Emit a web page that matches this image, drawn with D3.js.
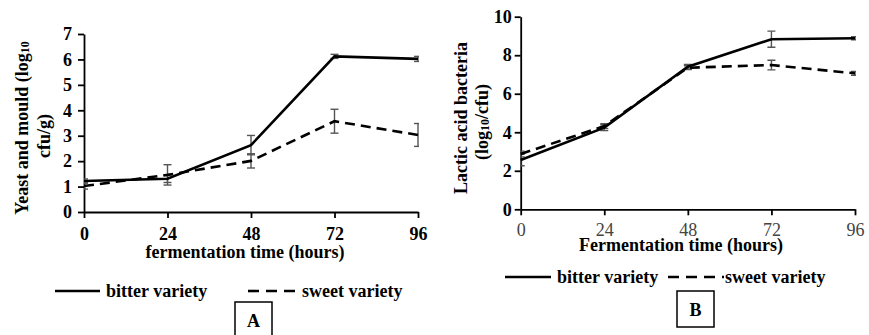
<!DOCTYPE html>
<html>
<head>
<meta charset="utf-8">
<script src="https://cdn.jsdelivr.net/npm/d3@7"></script>
<style>
  body { margin: 0; background: #fff; }
  svg, svg text { font-family: "Liberation Serif", "Times New Roman", Times, "DejaVu Serif", serif; }
</style>
</head>
<body>
<div id="chart"></div>
<script>
// fermentation time points (hours)
const hours = [0, 24, 48, 72, 96];

// panel A: yeast and mould
const yeastBitter = [1.22, 1.31, 2.63, 6.12, 6.02];
const yeastBitterErr = [0.08, 0.15, 0.38, 0.08, 0.1];
const yeastSweet = [1.02, 1.46, 2.01, 3.57, 3.03];
const yeastSweetErr = [0.12, 0.4, 0.28, 0.47, 0.45];
const yeastTicks = [0, 1, 2, 3, 4, 5, 6, 7];

// panel B: lactic acid bacteria
const labBitter = [2.56, 4.24, 7.4, 8.83, 8.88];
const labBitterErr = [0.3, 0.15, 0.12, 0.42, 0.08];
const labSweet = [2.87, 4.32, 7.35, 7.49, 7.06];
const labSweetErr = [0.15, 0.12, 0.1, 0.25, 0.1];
const labTicks = [0, 2, 4, 6, 8, 10];

const FONT = '"Liberation Serif", "Times New Roman", Times, "DejaVu Serif", serif';

const svg = d3.select('#chart').append('svg')
  .attr('width', 869)
  .attr('height', 335);

function drawPanel(opt) {
  const x = d3.scaleLinear().domain([0, 96]).range([opt.left, opt.right]);
  const y = d3.scaleLinear().domain([0, opt.yMax]).range([opt.bottom, opt.top]);
  const g = svg.append('g');

  g.append('clipPath').attr('id', opt.id + '-clip')
    .append('rect')
    .attr('x', opt.left).attr('y', opt.top - 10)
    .attr('width', opt.right - opt.left + 1).attr('height', opt.bottom - opt.top + 10);

  // axes
  const yAxis = g.append('g')
    .attr('transform', `translate(${opt.left},0)`)
    .call(d3.axisLeft(y).tickValues(opt.ticks).tickFormat(d3.format('d'))
      .tickSize(6).tickSizeOuter(0).tickPadding(opt.yPad))
    .attr('font-family', FONT);
  yAxis.selectAll('text')
    .attr('font-size', 18).attr('font-weight', 'bold').attr('fill', '#000');

  const xAxis = g.append('g')
    .attr('transform', `translate(0,${opt.bottom})`)
    .call(d3.axisBottom(x).tickValues(hours).tickFormat(d3.format('d'))
      .tickSize(6).tickSizeOuter(0).tickPadding(opt.xPad))
    .attr('font-family', FONT);
  xAxis.selectAll('text')
    .attr('font-size', 18).attr('font-weight', opt.xBold ? 'bold' : 'normal')
    .attr('fill', opt.xBold ? '#000' : '#444');
  g.selectAll('.domain, .tick line').attr('stroke', '#000').attr('stroke-width', 1.8);

  const series = [
    { values: opt.bitter, err: opt.bitterErr, dash: null },
    { values: opt.sweet, err: opt.sweetErr, dash: '10,6' }
  ];

  const line = d3.line()
    .x((d, i) => x(hours[i]))
    .y(d => y(d));

  const clipped = g.append('g').attr('clip-path', `url(#${opt.id}-clip)`);

  // error bars
  series.forEach(s => {
    const eb = clipped.append('g')
      .attr('stroke', '#555')
      .attr('stroke-width', 1.4)
      .selectAll('g')
      .data(s.values)
      .enter().append('g');
    eb.append('line')
      .attr('x1', (d, i) => x(hours[i])).attr('x2', (d, i) => x(hours[i]))
      .attr('y1', (d, i) => y(d - s.err[i])).attr('y2', (d, i) => y(d + s.err[i]));
    eb.append('line')
      .attr('x1', (d, i) => x(hours[i]) - 4).attr('x2', (d, i) => x(hours[i]) + 4)
      .attr('y1', (d, i) => y(d - s.err[i])).attr('y2', (d, i) => y(d - s.err[i]));
    eb.append('line')
      .attr('x1', (d, i) => x(hours[i]) - 4).attr('x2', (d, i) => x(hours[i]) + 4)
      .attr('y1', (d, i) => y(d + s.err[i])).attr('y2', (d, i) => y(d + s.err[i]));
  });

  series.forEach(s => {
    g.append('path')
      .datum(s.values)
      .attr('d', line)
      .attr('fill', 'none')
      .attr('stroke', '#000')
      .attr('stroke-width', 2.6)
      .attr('stroke-dasharray', s.dash);
  });

  // y axis title (two lines, rotated)
  opt.yTitle.forEach(t => {
    const txt = g.append('text')
      .attr('transform', `translate(${t.x},${t.y}) rotate(-90)`)
      .attr('text-anchor', 'middle')
      .attr('dominant-baseline', 'central')
      .attr('font-family', FONT)
      .attr('font-size', 18)
      .attr('font-weight', 'bold');
    t.parts.forEach(p => {
      const ts = txt.append('tspan').text(p.text);
      if (p.sub) ts.attr('font-size', 12).attr('baseline-shift', '-25%');
    });
  });

  // x axis title
  g.append('text')
    .attr('x', opt.xTitle.x).attr('y', opt.xTitle.y)
    .attr('text-anchor', 'middle')
    .attr('font-family', FONT)
    .attr('font-size', 18).attr('font-weight', 'bold')
    .text(opt.xTitle.text);

  // legend
  const lg = opt.legend;
  g.append('line')
    .attr('x1', lg.solid[0]).attr('x2', lg.solid[1]).attr('y1', lg.y).attr('y2', lg.y)
    .attr('stroke', '#000').attr('stroke-width', 2.6);
  g.append('text')
    .attr('x', lg.solid[1] + 6).attr('y', lg.y + 6)
    .attr('font-family', FONT)
    .attr('font-size', 18).attr('font-weight', 'bold')
    .text('bitter variety');
  g.append('line')
    .attr('x1', lg.dash[0]).attr('x2', lg.dash[1]).attr('y1', lg.y).attr('y2', lg.y)
    .attr('stroke', '#000').attr('stroke-width', 2.6).attr('stroke-dasharray', '11,7');
  g.append('text')
    .attr('x', lg.dash[1] + 1).attr('y', lg.y + 6)
    .attr('font-family', FONT)
    .attr('font-size', 18).attr('font-weight', 'bold')
    .text('sweet variety');

  // panel letter box
  const b = opt.box;
  g.append('rect')
    .attr('x', b.x).attr('y', b.y).attr('width', b.w).attr('height', b.h)
    .attr('fill', '#fff').attr('stroke', '#000').attr('stroke-width', 1.5);
  g.append('text')
    .attr('x', b.x + b.w / 2).attr('y', b.ty)
    .attr('text-anchor', 'middle')
    .attr('font-family', FONT)
    .attr('font-size', 18).attr('font-weight', 'bold')
    .text(b.label);
}

drawPanel({
  id: 'a', left: 84, right: 418, top: 34, bottom: 212, yMax: 7,
  ticks: yeastTicks, yPad: 6, xPad: 9, xBold: true,
  bitter: yeastBitter, bitterErr: yeastBitterErr,
  sweet: yeastSweet, sweetErr: yeastSweetErr,
  yTitle: [
    { x: 22, y: 128, parts: [{ text: 'Yeast and mould (log' }, { text: '10', sub: true }] },
    { x: 44, y: 136, parts: [{ text: 'cfu/g)' }] }
  ],
  xTitle: { x: 245, y: 258, text: 'fermentation time (hours)' },
  legend: { y: 291, solid: [55, 100], dash: [248, 301] },
  box: { x: 235, y: 302, w: 37, h: 40, ty: 327, label: 'A' }
});

drawPanel({
  id: 'b', left: 520.7, right: 855, top: 16.7, bottom: 209.3, yMax: 10,
  ticks: labTicks, yPad: 3, xPad: 8, xBold: false,
  bitter: labBitter, bitterErr: labBitterErr,
  sweet: labSweet, sweetErr: labSweetErr,
  yTitle: [
    { x: 461, y: 118, parts: [{ text: 'Lactic acid bacteria' }] },
    { x: 482, y: 122, parts: [{ text: '(log' }, { text: '10', sub: true }, { text: '/cfu)' }] }
  ],
  xTitle: { x: 681, y: 251, text: 'Fermentation time (hours)' },
  legend: { y: 277, solid: [505, 551], dash: [668, 724] },
  box: { x: 677, y: 291, w: 37, h: 36, ty: 316, label: 'B' }
});
</script>
</body>
</html>
